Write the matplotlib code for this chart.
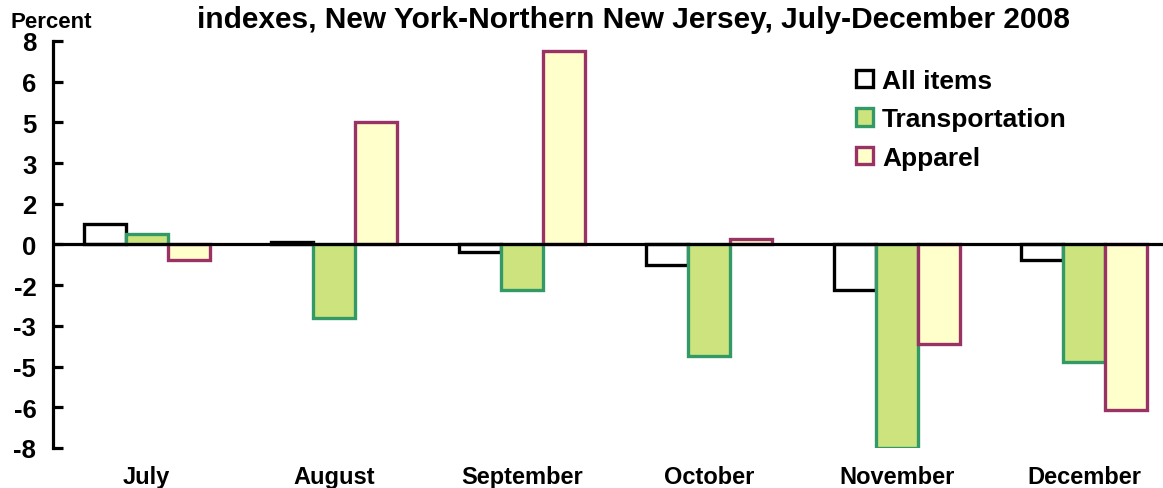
import matplotlib
matplotlib.use("Agg")
import matplotlib.pyplot as plt
import numpy as np
from matplotlib.patches import Patch

categories = ["July", "August", "September", "October", "November", "December"]
all_items = [0.8, 0.1, -0.3, -0.8, -1.8, -0.6]
transportation = [0.4, -2.9, -1.8, -4.4, -8.0, -4.6]
apparel = [-0.6, 4.8, 7.6, 0.2, -3.9, -6.5]
series_names = ["All items", "Transportation", "Apparel"]
y_ticks = [-8, -6.4, -4.8, -3.2, -1.6, 0, 1.6, 3.2, 4.8, 6.4, 8]
y_tick_labels = ["-8", "-6", "-5", "-3", "-2", "0", "2", "3", "5", "6", "8"]
title = "indexes, New York-Northern New Jersey, July-December 2008"

plt.rcParams['font.family'] = ['Liberation Sans', 'DejaVu Sans']
plt.rcParams['font.weight'] = 'bold'

fig = plt.figure(figsize=(11.63, 4.89), dpi=100)
ax = fig.add_axes([53/1163, 1 - 449/489, 1125/1163, (449 - 42)/489])

faces = ["white", "#cde47e", "#ffffcc"]
edges = ["black", "#339966", "#993366"]
data = [all_items, transportation, apparel]
x = np.arange(len(categories))
w = 0.224
for i, (vals, fc, ec, name) in enumerate(zip(data, faces, edges, series_names)):
    ax.bar(x + (i - 1) * w, vals, width=w, facecolor=fc, edgecolor=ec,
           linewidth=2.4, label=name, zorder=2)

ax.axhline(0, color="black", linewidth=2.3, zorder=3)
ax.set_xlim(-0.5, len(categories) - 0.5)
ax.set_ylim(-8, 8)
ax.set_yticks(y_ticks)
ax.set_yticklabels(y_tick_labels, fontsize=18.5, fontweight='bold')
ax.set_xticks(x)
ax.set_xticklabels(categories, fontsize=17, fontweight='bold')
ax.tick_params(axis='x', length=0, pad=12)
ax.tick_params(axis='y', direction='in', length=7, width=2.3, pad=12)
for s in ["top", "right", "bottom"]:
    ax.spines[s].set_visible(False)
ax.spines["left"].set_linewidth(2.3)

fig.text(10/1163, 1 - 28/489, "Percent", fontsize=16, fontweight='bold', ha='left', va='baseline')
fig.text(633/1163, 1 - 28/489, title, fontsize=21.5, fontweight='bold', ha='center', va='baseline')

handles = [Patch(facecolor=fc, edgecolor=ec, linewidth=2.4) for fc, ec in zip(faces, edges)]
fig.legend(handles, series_names, loc='upper left', bbox_to_anchor=(832/1163, 1 - 46/489),
           frameon=False, handlelength=0.65, handleheight=0.65,
           handletextpad=0.35, labelspacing=0.55, prop={'weight': 'bold', 'size': 19})

fig.savefig("out.png", dpi=100)
